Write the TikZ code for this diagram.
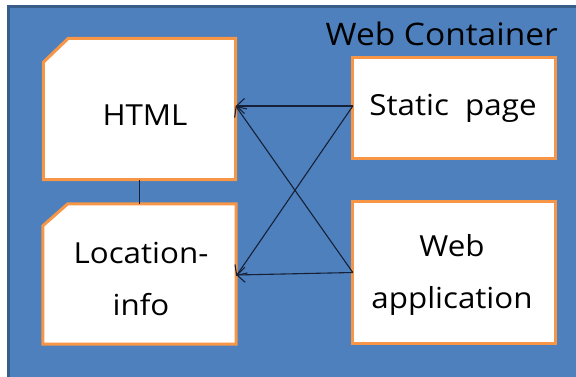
\documentclass[tikz,border=0pt]{standalone}
\usepackage{fontspec}
\setmainfont[FakeStretch=1.08]{Open Sans}
\usetikzlibrary{arrows.meta}
\definecolor{panelblue}{RGB}{77,128,189}
\definecolor{paneledge}{RGB}{56,93,138}
\definecolor{boxorange}{RGB}{247,150,70}
\definecolor{wire}{RGB}{22,32,54}
\tikzset{
  box/.style={draw=none, inner sep=0pt, text=black,
    font={\fontsize{29}{52}\selectfont}, align=center},
  outline/.style={draw=boxorange, line width=3pt, fill=white, line join=miter},
  link/.style={draw=wire, line width=1.1pt, -{Straight Barb[length=8pt,width=15pt,line width=1.1pt]}},
  tie/.style={draw=wire, line width=1.2pt}
}
\begin{document}
\begin{tikzpicture}[x=1pt, y=-1pt]
\useasboundingbox (0,0) rectangle (576,376);
% container panel
\fill[panelblue] (7,5) rectangle (580,380);
\draw[paneledge, line width=3pt] (8.5,380) -- (8.5,6.5) -- (580,6.5);
\node[anchor=base east, font={\fontsize{31}{36}\selectfont}, inner sep=0pt] (title) at (558,45) {Web Container};

% boxes (geometry only; outlines drawn below)
\node[box, minimum width=192pt, minimum height=141pt] (html) at (139.5,109) {};
\node[box, minimum width=193pt, minimum height=140pt] (loc)  at (139.5,274) {};
\node[box, minimum width=202pt, minimum height=100pt] (stat) at (454,108) {};
\node[box, minimum width=202pt, minimum height=141pt] (app)  at (454,272.5) {};

% chamfered outlines
\draw[outline] ([yshift=-24pt]html.north west) -- ([xshift=25pt]html.north west) -- (html.north east) -- (html.south east) -- (html.south west) -- cycle;
\draw[outline] ([yshift=-22pt]loc.north west) -- ([xshift=25pt]loc.north west) -- (loc.north east) -- (loc.south east) -- (loc.south west) -- cycle;
\draw[outline] (stat.north west) rectangle (stat.south east);
\draw[outline] (app.north west) rectangle (app.south east);

% labels
\node[box] (htmltext) at (145,115) {HTML};
\node[box] (loctext) at (141,279) {Location-\\info};
\node[box] (stattext) at (453,108) {Static\ \ page};
\node[box] (apptext) at (452,275) {Web\\application};

% connectors
\draw[tie] (html.south) -- (loc.north);
\draw[link] ([yshift=2pt]stat.west) -- ([yshift=3pt]html.east);
\draw[link] ([yshift=2pt]stat.west) -- ([yshift=-2pt]loc.east);
\draw[link] (app.west) -- ([yshift=3pt]html.east);
\draw[link] (app.west) -- ([yshift=-1pt]loc.east);
\end{tikzpicture}
\end{document}
